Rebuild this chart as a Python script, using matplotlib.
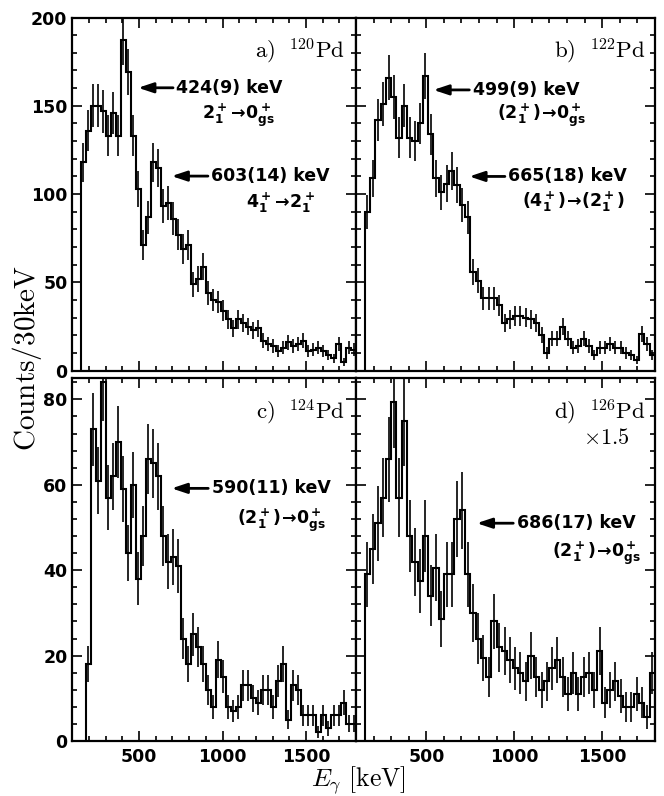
import numpy as np
import matplotlib
matplotlib.use("Agg")
import matplotlib.pyplot as plt
from matplotlib.ticker import MultipleLocator

plt.rcParams['font.family'] = ['DejaVu Sans']
plt.rcParams['mathtext.fontset'] = 'cm'

# --- data: counts per 30 keV bin ---
bin_width = 30
e_max = 1800

start_a = 150
counts_a = [118, 136, 150, 150, 147, 133, 146, 133, 187, 169,
            133, 103, 71, 87, 118, 115, 93, 95, 86, 77,
            69, 71, 49, 52, 59, 44, 40, 39, 34, 29,
            24, 29, 27, 25, 23, 24, 17, 15, 14, 11,
            13, 16, 14, 15, 17, 11, 12, 13, 11, 9,
            7, 15, 5, 13, 12]

start_b = 150
counts_b = [90, 109, 142, 151, 166, 155, 132, 150, 132, 130,
            140, 167, 134, 109, 101, 106, 113, 105, 94, 87,
            56, 51, 41, 41, 41, 37, 27, 29, 31, 31,
            30, 29, 27, 20, 10, 18, 18, 25, 18, 13,
            14, 18, 14, 9, 13, 13, 15, 13, 13, 10,
            9, 6, 21, 15, 9]

start_c = 180
counts_c = [18, 73, 61, 84, 57, 62, 70, 59, 44, 60,
            38, 48, 66, 65, 62, 48, 42, 43, 41, 24,
            18, 25, 22, 18, 12, 8, 19, 15, 8, 7,
            8, 13, 13, 10, 9, 12, 12, 8, 14, 18,
            5, 13, 12, 6, 6, 6, 2, 6, 3, 6,
            6, 9, 4, 4]

# 126Pd is shown multiplied by 1.5
start_d = 150
scale_d = 1.5
counts_d = [39, 45, 51, 57, 66, 79.5, 57, 75, 48, 42,
            37.5, 48, 34, 40.6, 28.5, 39, 39, 52, 54, 39,
            30, 24, 19.4, 15, 28, 22, 21, 19, 17, 16,
            14, 20, 15, 12, 14, 17, 19, 15, 11, 16,
            11, 15, 16, 12, 21, 9, 12, 14, 10.5, 8,
            8, 11, 9, 5.6, 16]

labels = [r'$\mathrm{a)\ \ ^{120}Pd}$', r'$\mathrm{b)\ \ ^{122}Pd}$',
          r'$\mathrm{c)\ \ ^{124}Pd}$', r'$\mathrm{d)\ \ ^{126}Pd}$']


def draw_spectrum(ax, start, counts, scale=1.0):
    counts = np.array(counts, dtype=float)
    edges = start + bin_width * np.arange(len(counts) + 1)
    centers = 0.5 * (edges[:-1] + edges[1:])
    err = np.sqrt(counts * scale)  # Poisson errors of the raw counts
    ax.stairs(counts, edges, baseline=0, color='k', lw=1.5)
    ax.errorbar(centers, counts, yerr=err, fmt='none', ecolor='k',
                elinewidth=1.2, capsize=0)


def style_axes(ax, ymax, ymaj, ymin, left_lab, bottom_lab):
    ax.set_xlim(100, e_max)
    ax.set_ylim(0, ymax)
    ax.xaxis.set_major_locator(MultipleLocator(500))
    ax.xaxis.set_minor_locator(MultipleLocator(100))
    ax.yaxis.set_major_locator(MultipleLocator(ymaj))
    ax.yaxis.set_minor_locator(MultipleLocator(ymin))
    ax.tick_params(which='both', direction='in', top=True, right=True,
                   width=1.2, labelsize=12.5,
                   labelleft=left_lab, labelbottom=bottom_lab)
    ax.tick_params(which='major', length=7)
    ax.tick_params(which='minor', length=3.5)
    ax.tick_params(axis='x', pad=5)
    for lab in ax.get_xticklabels() + ax.get_yticklabels():
        lab.set_fontweight('bold')
    for sp in ax.spines.values():
        sp.set_linewidth(1.6)


def mark_peak(ax, y, tip, tail, energy, trans, tx, ty):
    ax.annotate('', xy=(tip, y), xytext=(tail, y), xycoords='axes fraction',
                arrowprops=dict(arrowstyle='-|>,head_length=0.9,head_width=0.3',
                                color='k', lw=2, shrinkA=0, shrinkB=0,
                                mutation_scale=10))
    ax.text(tail + 0.012, y, energy, transform=ax.transAxes, fontsize=12.5,
            fontweight='bold', ha='left', va='center')
    ax.text(tx, ty, trans, transform=ax.transAxes, fontsize=12.5,
            ha='center', va='center', math_fontfamily='dejavusans')


fig = plt.figure(figsize=(6.64, 7.96), dpi=100)
ax_a = fig.add_axes([0.1089, 0.5343, 0.4273, 0.4437])
ax_b = fig.add_axes([0.5361, 0.5343, 0.4503, 0.4437])
ax_c = fig.add_axes([0.1089, 0.0691, 0.4273, 0.4560])
ax_d = fig.add_axes([0.5361, 0.0691, 0.4503, 0.4560])

draw_spectrum(ax_a, start_a, counts_a)
draw_spectrum(ax_b, start_b, counts_b)
draw_spectrum(ax_c, start_c, counts_c)
draw_spectrum(ax_d, start_d, counts_d, scale_d)

style_axes(ax_a, 200, 50, 10, True, False)
style_axes(ax_b, 200, 50, 10, False, False)
style_axes(ax_c, 85, 20, 4, True, True)
style_axes(ax_d, 85, 20, 4, False, True)

for ax, lab, xr in zip([ax_a, ax_b, ax_c, ax_d], labels,
                       [0.961, 0.967, 0.961, 0.967]):
    ax.text(xr, 0.905, lab, transform=ax.transAxes, fontsize=16.5,
            ha='right', va='center')
ax_d.text(0.838, 0.836, r'$\times\mathrm{1.5}$', transform=ax_d.transAxes,
          fontsize=16, ha='center', va='center')

mark_peak(ax_a, 0.801, 0.232, 0.355, '424(9) keV',
          r'$\mathbf{2_1^+\!\rightarrow\!0_{gs}^+}$', 0.584, 0.724)
mark_peak(ax_a, 0.551, 0.350, 0.478, '603(14) keV',
          r'$\mathbf{4_1^+\!\rightarrow\!2_1^+}$', 0.732, 0.475)
mark_peak(ax_b, 0.795, 0.259, 0.379, '499(9) keV',
          r'$\mathbf{(2_1^+)\!\rightarrow\!0_{gs}^+}$', 0.621, 0.724)
mark_peak(ax_b, 0.550, 0.379, 0.498, '665(18) keV',
          r'$\mathbf{(4_1^+)\!\rightarrow\!(2_1^+)}$', 0.727, 0.479)
mark_peak(ax_c, 0.696, 0.350, 0.479, '590(11) keV',
          r'$\mathbf{(2_1^+)\!\rightarrow\!0_{gs}^+}$', 0.738, 0.609)
mark_peak(ax_d, 0.600, 0.404, 0.526, '686(17) keV',
          r'$\mathbf{(2_1^+)\!\rightarrow\!0_{gs}^+}$', 0.805, 0.517)

fig.text(0.040, 0.55, r'$\mathrm{Counts/30keV}$', rotation=90,
         fontsize=21, ha='center', va='center')
fig.text(0.54, 0.013, r'$E_{\gamma}\ \mathrm{[keV]}$', fontsize=18.5,
         ha='center', va='baseline')

fig.savefig('out.png', dpi=100)
